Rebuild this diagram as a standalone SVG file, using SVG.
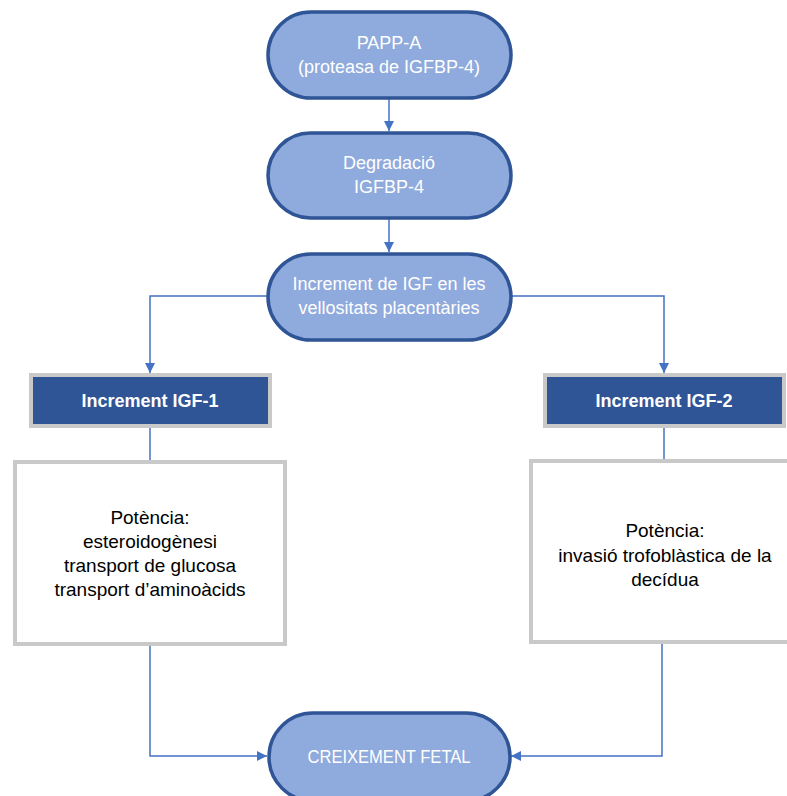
<svg xmlns="http://www.w3.org/2000/svg" width="787" height="796" viewBox="0 0 787 796">
<style>
.term{fill:#8FAADC;stroke:#2F5597;stroke-width:3.5}
.hdr{fill:#2F5597;stroke:#C9C9C9;stroke-width:4}
.box{fill:#FFFFFF;stroke:#C9C9C9;stroke-width:4}
.wt{font-family:"Liberation Sans",Arial,sans-serif;font-size:18px;fill:#FFFFFF;text-anchor:middle;dominant-baseline:central}
.bt{font-family:"Liberation Sans",Arial,sans-serif;font-size:18px;font-weight:bold;fill:#FFFFFF;text-anchor:middle;dominant-baseline:central}
.kt{font-family:"Liberation Sans",Arial,sans-serif;font-size:19px;fill:#000000;text-anchor:middle;dominant-baseline:central}
.con{fill:none;stroke:#4472C4;stroke-width:1.5}
</style>
<defs>
<marker id="ah" viewBox="0 0 10 10" refX="10" refY="5" markerWidth="10" markerHeight="10" markerUnits="userSpaceOnUse" orient="auto">
<path d="M0,0 L10,5 L0,10 Z" fill="#4472C4"/>
</marker>
</defs>
<g id="connectors">
<line class="con" x1="389" y1="98" x2="389" y2="131" marker-end="url(#ah)"/>
<line class="con" x1="389" y1="218" x2="389" y2="252" marker-end="url(#ah)"/>
<polyline class="con" points="268,296 150,296 150,373" marker-end="url(#ah)"/>
<polyline class="con" points="511,296 664,296 664,373" marker-end="url(#ah)"/>
<line class="con" x1="150" y1="428" x2="150" y2="460"/>
<line class="con" x1="664" y1="428" x2="664" y2="460"/>
<polyline class="con" points="150,645 150,756 267,756" marker-end="url(#ah)"/>
<polyline class="con" points="662,643 662,756 511,756" marker-end="url(#ah)"/>
</g>
<g id="node-pappa">
<rect class="term" x="268" y="12" width="243" height="86" rx="43"/>
<text class="wt" x="389" y="43">PAPP-A</text>
<text class="wt" x="389" y="67">(proteasa de IGFBP-4)</text>
</g>
<g id="node-degradacio">
<rect class="term" x="268" y="133" width="243" height="85" rx="42.5"/>
<text class="wt" x="389" y="163">Degradació</text>
<text class="wt" x="389" y="187">IGFBP-4</text>
</g>
<g id="node-increment-igf">
<rect class="term" x="268" y="254" width="243" height="86" rx="43"/>
<text class="wt" x="389" y="284">Increment de IGF en les</text>
<text class="wt" x="389" y="308">vellositats placentàries</text>
</g>
<g id="node-igf1">
<rect class="hdr" x="31" y="375" width="239" height="51"/>
<text class="bt" x="150" y="401">Increment IGF-1</text>
</g>
<g id="node-igf2">
<rect class="hdr" x="545" y="375" width="239" height="51"/>
<text class="bt" x="664" y="401">Increment IGF-2</text>
</g>
<g id="node-potencia1">
<rect class="box" x="15" y="462" width="270" height="182"/>
<text class="kt" x="150" y="517">Potència:</text>
<text class="kt" x="150" y="541">esteroidogènesi</text>
<text class="kt" x="150" y="565">transport de glucosa</text>
<text class="kt" x="150" y="589">transport d’aminoàcids</text>
</g>
<g id="node-potencia2">
<rect class="box" x="531" y="461" width="270" height="181"/>
<text class="kt" x="665" y="530">Potència:</text>
<text class="kt" x="665" y="555">invasió trofoblàstica de la</text>
<text class="kt" x="665" y="579">decídua</text>
</g>
<g id="node-creixement">
<rect class="term" x="269" y="713" width="241" height="88" rx="44"/>
<text class="wt" x="389" y="757" textLength="163" lengthAdjust="spacingAndGlyphs">CREIXEMENT FETAL</text>
</g>
</svg>
